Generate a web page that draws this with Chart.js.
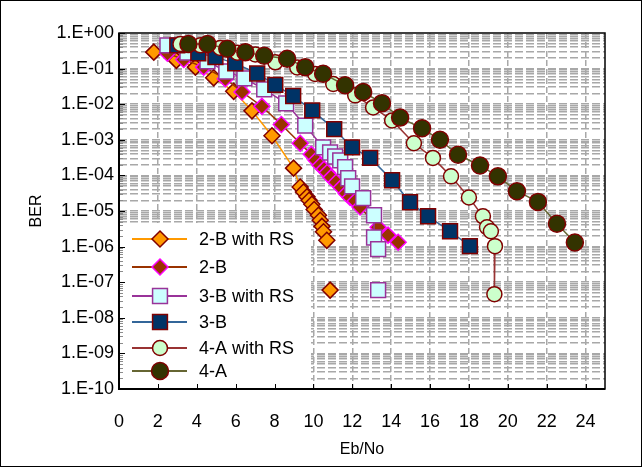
<!DOCTYPE html>
<html><head><meta charset="utf-8">
<style>html,body{margin:0;padding:0;background:#fff}canvas{display:block}</style>
<script src="https://cdn.jsdelivr.net/npm/chart.js@4/dist/chart.umd.min.js"></script>
</head><body>
<canvas id="c" width="642" height="467"></canvas>
<script>
// ---- data ----
const seriesNames = ['2-B with RS', '2-B', '3-B with RS', '3-B', '4-A with RS', '4-A'];

const x2BRS = [1.79, 2.95, 3.93, 4.87, 5.90, 6.84, 7.87, 8.98, 9.32, 9.49, 9.67, 9.78, 9.92, 10.04, 10.26, 10.35, 10.44, 10.52, 10.69, 10.8, 10.86];
const y2BRS = [0.29, 0.17, 0.11, 0.055, 0.023, 6.5e-3, 1.3e-3, 1.6e-4, 4.7e-5, 3.4e-5, 2.5e-5, 2.0e-5, 1.55e-5, 1.1e-5, 7.6e-6, 5.5e-6, 3.7e-6, 2.6e-6, 1.5e-6, null, 6e-8];

const x2B = [2.49, 3.33, 4.36, 5.47, 6.33, 7.35, 8.35, 9.32, 9.89, 10.14, 10.35, 10.55, 10.71, 10.91, 11.17, 11.43, 11.69, 11.89, 12.15, 12.4, 13.33, 13.84, 14.36];
const y2B = [0.27, 0.18, 0.11, 0.052, 0.022, 8.7e-3, 2.7e-3, 8e-4, 3.9e-4, 2.65e-4, 1.9e-4, 1.5e-4, 1.2e-4, 8.8e-5, 6.4e-5, 4.6e-5, 3.1e-5, 2.4e-5, 1.9e-5, 1.3e-5, 3.5e-6, 2.1e-6, 1.33e-6];

const x3BRS = [2.49, 3.52, 4.55, 5.52, 6.45, 7.47, 8.6, 9.58, 10.5, 10.86, 11.12, 11.38, 11.63, 11.79, 11.99, 12.56, 13.12, 13.12, 13.33, 13.33, 13.33];
const y3BRS = [0.45, 0.28, 0.16, 0.083, 0.053, 0.026, 0.0105, 2.5e-3, 6.1e-4, 4.4e-4, 3.4e-4, 2.65e-4, 1.7e-4, 8.3e-5, 4.9e-5, 2.3e-5, 7.6e-6, 1.8e-6, 8.5e-7, null, 6e-8];

const x3B = [3.0, 4.08, 4.96, 5.98, 7.11, 8.04, 8.96, 9.94, 11.07, 11.99, 12.92, 14.05, 14.97, 15.9, 17.03, 18.05];
const y3B = [0.45, 0.27, 0.21, 0.14, 0.073, 0.035, 0.017, 6.7e-3, 2.0e-3, 6.1e-4, 3.1e-4, 7.3e-5, 1.76e-5, 7.1e-6, 2.7e-6, 1.03e-6];

const x4ARS = [3.16, 4.19, 5.21, 6.09, 7.01, 8.04, 9.17, 10.09, 11.02, 12.15, 13.07, 14.05, 15.17, 16.15, 17.08, 18.0, 18.72, 18.93, 19.13, 19.34, 19.31];
const y4ARS = [0.49, 0.45, 0.38, 0.28, 0.25, 0.15, 0.108, 0.071, 0.037, 0.0177, 8.1e-3, 3.5e-3, 8e-4, 3.1e-4, 9.4e-5, 2.4e-5, 7.1e-6, 3.5e-6, 2.7e-6, 1.03e-6, 4.6e-8];

const x4A = [3.57, 4.55, 5.57, 6.50, 7.47, 8.65, 9.58, 10.5, 11.63, 12.56, 13.53, 14.46, 15.59, 16.51, 17.44, 18.57, 19.49, 20.47, 21.55, 22.53, 23.45];
const y4A = [0.49, 0.49, 0.36, 0.29, 0.23, 0.19, 0.11, 0.072, 0.034, 0.022, 0.0107, 4.2e-3, 2.1e-3, 1.0e-3, 3.8e-4, 1.9e-4, 9.4e-5, 3.6e-5, 1.8e-5, 4.4e-6, 1.3e-6];

const xTickValues = [0, 2, 4, 6, 8, 10, 12, 14, 16, 18, 20, 22, 24];
const yTickLabels = ['1.E+00', '1.E-01', '1.E-02', '1.E-03', '1.E-04', '1.E-05', '1.E-06', '1.E-07', '1.E-08', '1.E-09', '1.E-10'];
const yMinorMantissas = [1, 2, 3, 4, 5, 6, 7, 8, 9];

// ---- build ----
const FONT = "'Liberation Sans', Arial, sans-serif";
function pts(xs, ys) { return xs.map((x, i) => ({x: x, y: ys[i]})); }

const styles = [
  {style: 'rectRot', r: 8, bg: '#FF9900', pb: '#800000', line: '#FF9900'},
  {style: 'rectRot', r: 8, bg: '#993300', pb: '#FF00FF', line: '#993300'},
  {style: 'rect', r: 10.5, bg: '#CCFFFF', pb: '#993399', line: '#993399'},
  {style: 'rect', r: 10.5, bg: '#003366', pb: '#800000', line: '#336699'},
  {style: 'circle', r: 7.5, bg: '#CCFFCC', pb: '#800000', line: '#993333'},
  {style: 'circle', r: 8.5, bg: '#333300', pb: '#800000', line: '#666633'}
];
const xs = [x2BRS, x2B, x3BRS, x3B, x4ARS, x4A];
const ysArr = [y2BRS, y2B, y3BRS, y3B, y4ARS, y4A];

const datasets = seriesNames.map((name, i) => ({
  label: name,
  data: pts(xs[i], ysArr[i]),
  borderColor: styles[i].line,
  backgroundColor: styles[i].bg,
  borderWidth: 1.5,
  pointStyle: styles[i].style,
  pointRadius: styles[i].r,
  pointHoverRadius: styles[i].r,
  pointBackgroundColor: styles[i].bg,
  pointBorderColor: styles[i].pb,
  pointBorderWidth: 1.5,
  spanGaps: false,
  tension: 0,
  order: 5 - i
}));

const yTickValues = [];
for (let e = -10; e <= 0; e++) {
  for (const m of yMinorMantissas) {
    if (e === 0 && m > 1) break;
    yTickValues.push(parseFloat((m * Math.pow(10, e)).toPrecision(6)));
  }
}
function expOf(v) { const l = Math.log10(v); const r = Math.round(l); return Math.abs(l - r) < 1e-6 ? r : null; }

const LEG = {left: 119, right: 311, top: 223, lineX0: 132, lineX1: 187, markX: 160, textX: 199, rows: [239, 267, 296, 322, 348, 371]};

const decor = {
  id: 'decor',
  beforeDatasetsDraw(chart) {
    const {ctx, chartArea: a, scales} = chart;
    ctx.save();
    ctx.fillStyle = '#fff';
    ctx.fillRect(a.left, LEG.top, LEG.right - a.left, a.bottom - LEG.top);
    const ys = scales.y;
    ys.ticks.forEach(t => {
      const py = Math.round(ys.getPixelForValue(t.value)) + 0.5;
      const major = expOf(t.value) !== null;
      ctx.strokeStyle = major ? '#000' : '#8c8c8c';
      ctx.lineWidth = 1;
      ctx.beginPath(); ctx.moveTo(a.left, py); ctx.lineTo(a.left + (major ? 6 : 4), py); ctx.stroke();
    });
    const xsc = scales.x;
    xsc.ticks.forEach(t => {
      const px = Math.round(xsc.getPixelForValue(t.value)) + 0.5;
      ctx.strokeStyle = '#000'; ctx.lineWidth = 1;
      ctx.beginPath(); ctx.moveTo(px, a.bottom); ctx.lineTo(px, a.bottom - 5); ctx.stroke();
    });
    ctx.strokeStyle = '#000';
    ctx.lineWidth = 1.5;
    ctx.strokeRect(a.left, a.top, a.right - a.left, a.bottom - a.top);
    ctx.lineWidth = 2;
    ctx.beginPath(); ctx.moveTo(a.left, a.top); ctx.lineTo(a.left, a.bottom); ctx.lineTo(a.right, a.bottom); ctx.stroke();
    ctx.restore();
  },
  afterDatasetsDraw(chart) {
    const ctx = chart.ctx;
    ctx.save();
    chart.data.datasets.forEach((ds, i) => {
      const y = LEG.rows[i];
      ctx.strokeStyle = ds.borderColor; ctx.lineWidth = 2;
      ctx.beginPath(); ctx.moveTo(LEG.lineX0, y); ctx.lineTo(LEG.lineX1, y); ctx.stroke();
      ctx.fillStyle = ds.pointBackgroundColor; ctx.strokeStyle = ds.pointBorderColor; ctx.lineWidth = ds.pointBorderWidth;
      Chart.helpers.drawPoint(ctx, {pointStyle: ds.pointStyle, radius: ds.pointRadius, borderWidth: ds.pointBorderWidth, rotation: 0}, LEG.markX, y);
      ctx.fillStyle = '#000'; ctx.font = '18px ' + FONT; ctx.textBaseline = 'middle'; ctx.textAlign = 'left';
      ctx.fillText(ds.label, LEG.textX, y + 1);
    });
    ctx.restore();
  },
  afterDraw(chart) {
    const ctx = chart.ctx;
    ctx.save(); ctx.strokeStyle = '#000'; ctx.lineWidth = 1;
    ctx.strokeRect(0.5, 0.5, chart.width - 1, chart.height - 1);
    ctx.restore();
  }
};

new Chart(document.getElementById('c'), {
  type: 'line',
  data: {datasets: datasets},
  plugins: [decor],
  options: {
    responsive: false, animation: false, devicePixelRatio: 1,
    layout: {padding: {left: 0, top: 33, right: 37, bottom: 0}},
    plugins: {legend: {display: false}, tooltip: {enabled: false}},
    scales: {
      x: {
        type: 'linear', min: 0, max: 25,
        afterBuildTicks: s => { s.ticks = xTickValues.map(v => ({value: v})); },
        afterFit: s => { s.height = 78; },
        ticks: {autoSkip: false, maxRotation: 0, padding: 22, color: '#000', font: {family: FONT, size: 18}, callback: v => String(v)},
        grid: {drawTicks: false, lineWidth: 1.5, color: c => (c.tick && c.tick.value === 0) ? 'rgba(0,0,0,0)' : '#a8a8a8'},
        border: {display: false, dash: [6, 3]},
        title: {display: true, text: 'Eb/No', color: '#000', font: {family: FONT, size: 16}, padding: {top: 0, bottom: 8}}
      },
      y: {
        type: 'logarithmic', min: 1e-10, max: 1,
        afterBuildTicks: s => { s.ticks = yTickValues.map(v => ({value: v})); },
        afterFit: s => { s.width = 119; },
        ticks: {autoSkip: false, padding: 5, color: '#000', font: {family: FONT, size: 18},
          callback: v => { const e = expOf(v); return e === null ? '' : yTickLabels[-e]; }},
        grid: {drawTicks: false, lineWidth: 1.5, color: c => (c.tick && (c.tick.value === 1 || c.tick.value === 1e-10)) ? 'rgba(0,0,0,0)' : '#a8a8a8'},
        border: {display: false, dash: [8, 3]},
        title: {display: true, text: 'BER', color: '#000', font: {family: FONT, size: 16}, padding: {top: 27, bottom: 0}}
      }
    }
  }
});
</script>
</body></html>
